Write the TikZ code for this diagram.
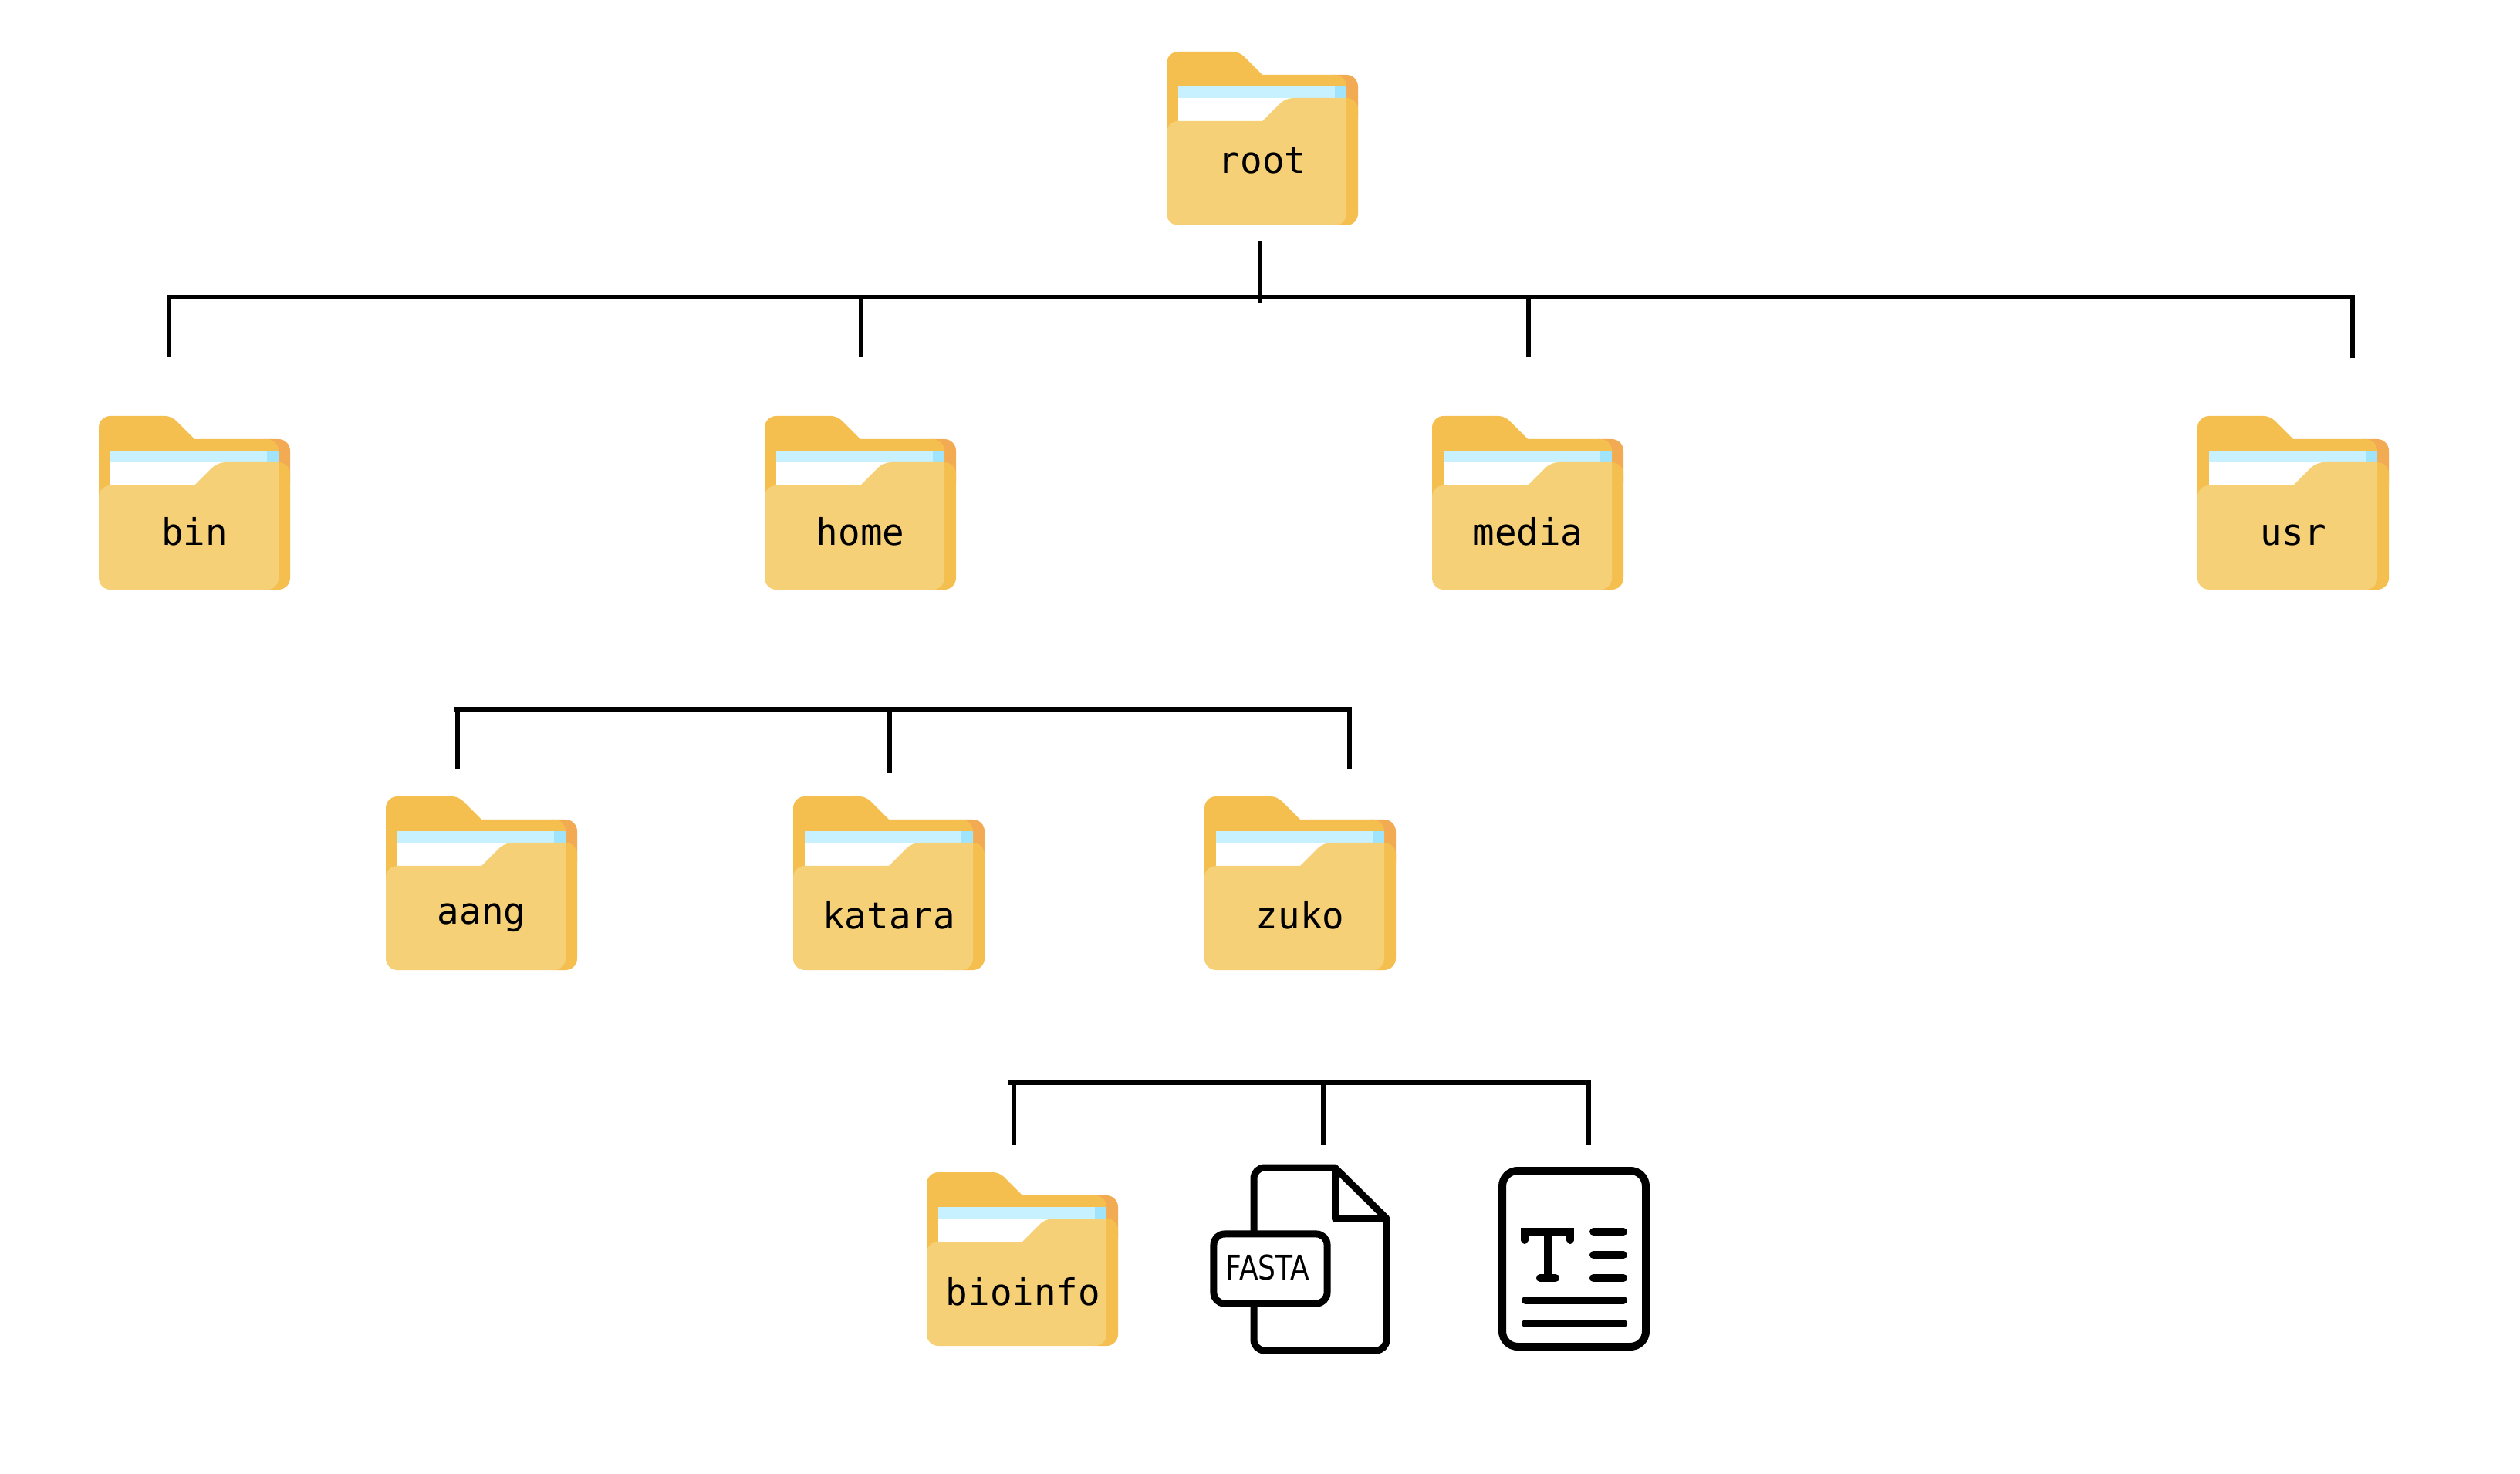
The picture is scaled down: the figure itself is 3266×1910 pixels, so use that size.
\documentclass[tikz,border=0pt]{standalone}
\usepackage{fontspec}
\setmonofont{DejaVu Sans Mono}
\newfontfamily\fastafont[FakeStretch=0.82]{DejaVu Sans}

\definecolor{folderFront}{HTML}{F6D077}
\definecolor{folderBack}{HTML}{F5BF50}
\definecolor{folderRear}{HTML}{F3AB53}
\definecolor{paperTop}{HTML}{C8F1FF}
\definecolor{paperEdge}{HTML}{A0E4FC}

\tikzset{
  folder/.pic={
    \fill[folderRear,rounded corners=0.15cm] (200,30) rectangle (248,100);
    \fill[folderBack,rounded corners=0.15cm] (200,60) rectangle (248,225);
    \fill[folderBack] [rounded corners=0.15cm] (100,120) -- (0,120) -- (0,0) [rounded corners=0.08cm] -- (94,0) [sharp corners] -- (124,30) [rounded corners=0.15cm] -- (233,30) -- (233,120) -- cycle;
    \fill[paperTop] (15,45) rectangle (218,60);
    \fill[paperEdge] (218,45) rectangle (233,60);
    \fill[white] (15,60) rectangle (190,95);
    \fill[folderFront] [rounded corners=0.15cm] (100,225) -- (0,225) -- (0,90) [sharp corners] -- (124,90) [rounded corners=0.1cm] -- (154,60) [sharp corners] -- (233,60) [rounded corners=0.15cm] -- (233,225) -- cycle;
  }
}
\tikzstyle{foldertext}=[anchor=base,inner sep=0pt,font=\ttfamily\fontsize{13.5}{15}\selectfont]
\tikzstyle{wire}=[draw=black,line width=0.06cm,miter limit=10]
\tikzstyle{icon}=[draw=black,line width=0.09cm,line join=round]
\tikzstyle{iconline}=[draw=black,line width=0.1cm,line cap=round]

\begin{document}
\begin{tikzpicture}[x=0.01cm,y=-0.01cm]
\useasboundingbox (0,0) rectangle (3266,1910);

% folders, top level
\pic at (1512,67) {folder};
\node [foldertext] at (1636,225) (root) {root};
\pic at (128,539) {folder};
\node [foldertext] at (252,707) (bin) {bin};
\pic at (991,539) {folder};
\node [foldertext] at (1115,707) (home) {home};
\pic at (1856,539) {folder};
\node [foldertext] at (1980,707) (media) {media};
\pic at (2848,539) {folder};
\node [foldertext] at (2972,707) (usr) {usr};

% folders, home
\pic at (500,1032) {folder};
\node [foldertext] at (624,1198) (aang) {aang};
\pic at (1028,1032) {folder};
\node [foldertext] at (1152,1203) (katara) {katara};
\pic at (1561,1032) {folder};
\node [foldertext] at (1685,1203) (zuko) {zuko};

% zuko
\pic at (1201,1519) {folder};
\node [foldertext] at (1326,1691) (bioinfo) {bioinfo};

% fasta file
\draw [icon] (1625,1640) [rounded corners=0.14cm] -- (1625,1513) [sharp corners] -- (1730,1513) -- (1797,1579) [rounded corners=0.14cm] -- (1797,1750) -- (1625,1750) -- cycle;
\draw [icon] (1730,1513) -- (1730,1579) -- (1797,1579);
\node [draw=black,fill=white,line width=0.09cm,rounded corners=0.14cm,minimum width=1.47cm,minimum height=0.9cm,inner sep=0pt] at (1646.5,1644) (fastaBox) {};
\node [inner sep=0pt,font=\fastafont\fontsize{12.5}{15}\selectfont] at (1643,1642) (fasta) {FASTA};

% text file
\draw [icon,line width=0.1cm,rounded corners=0.2cm] (1947,1517) rectangle (2133,1745);
\draw [iconline] (1976,1607) -- (1976,1596) -- (2035,1596) -- (2035,1607);
\draw [iconline] (2006,1596) -- (2006,1656);
\draw [iconline] (1996,1656) -- (2016,1656);
\foreach \ypos in {1596,1626,1656} {
  \draw [iconline] (2065,\ypos) -- (2104,\ypos);
}
\foreach \ypos in {1685,1715} {
  \draw [iconline] (1977,\ypos) -- (2104,\ypos);
}

% connectors
\coordinate (rootStemTop) at (1633,312);
\coordinate (rootStemEnd) at (1633,392);
\coordinate (binDrop) at (219,462);
\coordinate (binBus) at (219,385);
\coordinate (usrBus) at (3049,385);
\coordinate (usrDrop) at (3049,464);
\coordinate (homeBus) at (1116,385);
\coordinate (homeDrop) at (1116,463);
\coordinate (mediaBus) at (1981,385);
\coordinate (mediaDrop) at (1981,463);
\draw [wire] (rootStemTop) -- (rootStemEnd);
\draw [wire] (binDrop) -- (binBus) -- (usrBus) -- (usrDrop);
\draw [wire] (homeBus) -- (homeDrop);
\draw [wire] (mediaBus) -- (mediaDrop);

\coordinate (aangBusEnd) at (588,919);
\coordinate (aangBus) at (593,919);
\coordinate (aangDrop) at (593,996);
\coordinate (kataraBus) at (1153,919);
\coordinate (kataraDrop) at (1153,1002);
\coordinate (zukoBus) at (1749,919);
\coordinate (zukoDrop) at (1749,996);
\draw [wire] (aangBusEnd) -- (zukoBus) -- (zukoDrop);
\draw [wire] (aangBus) -- (aangDrop);
\draw [wire] (kataraBus) -- (kataraDrop);

\coordinate (bioBusEnd) at (1307,1403);
\coordinate (bioBus) at (1314,1403);
\coordinate (bioDrop) at (1314,1484);
\coordinate (fastaBus) at (1715,1403);
\coordinate (fastaDrop) at (1715,1484);
\coordinate (textBus) at (2059,1403);
\coordinate (textDrop) at (2059,1484);
\draw [wire] (bioBusEnd) -- (textBus) -- (textDrop);
\draw [wire] (bioBus) -- (bioDrop);
\draw [wire] (fastaBus) -- (fastaDrop);
\end{tikzpicture}
\end{document}
